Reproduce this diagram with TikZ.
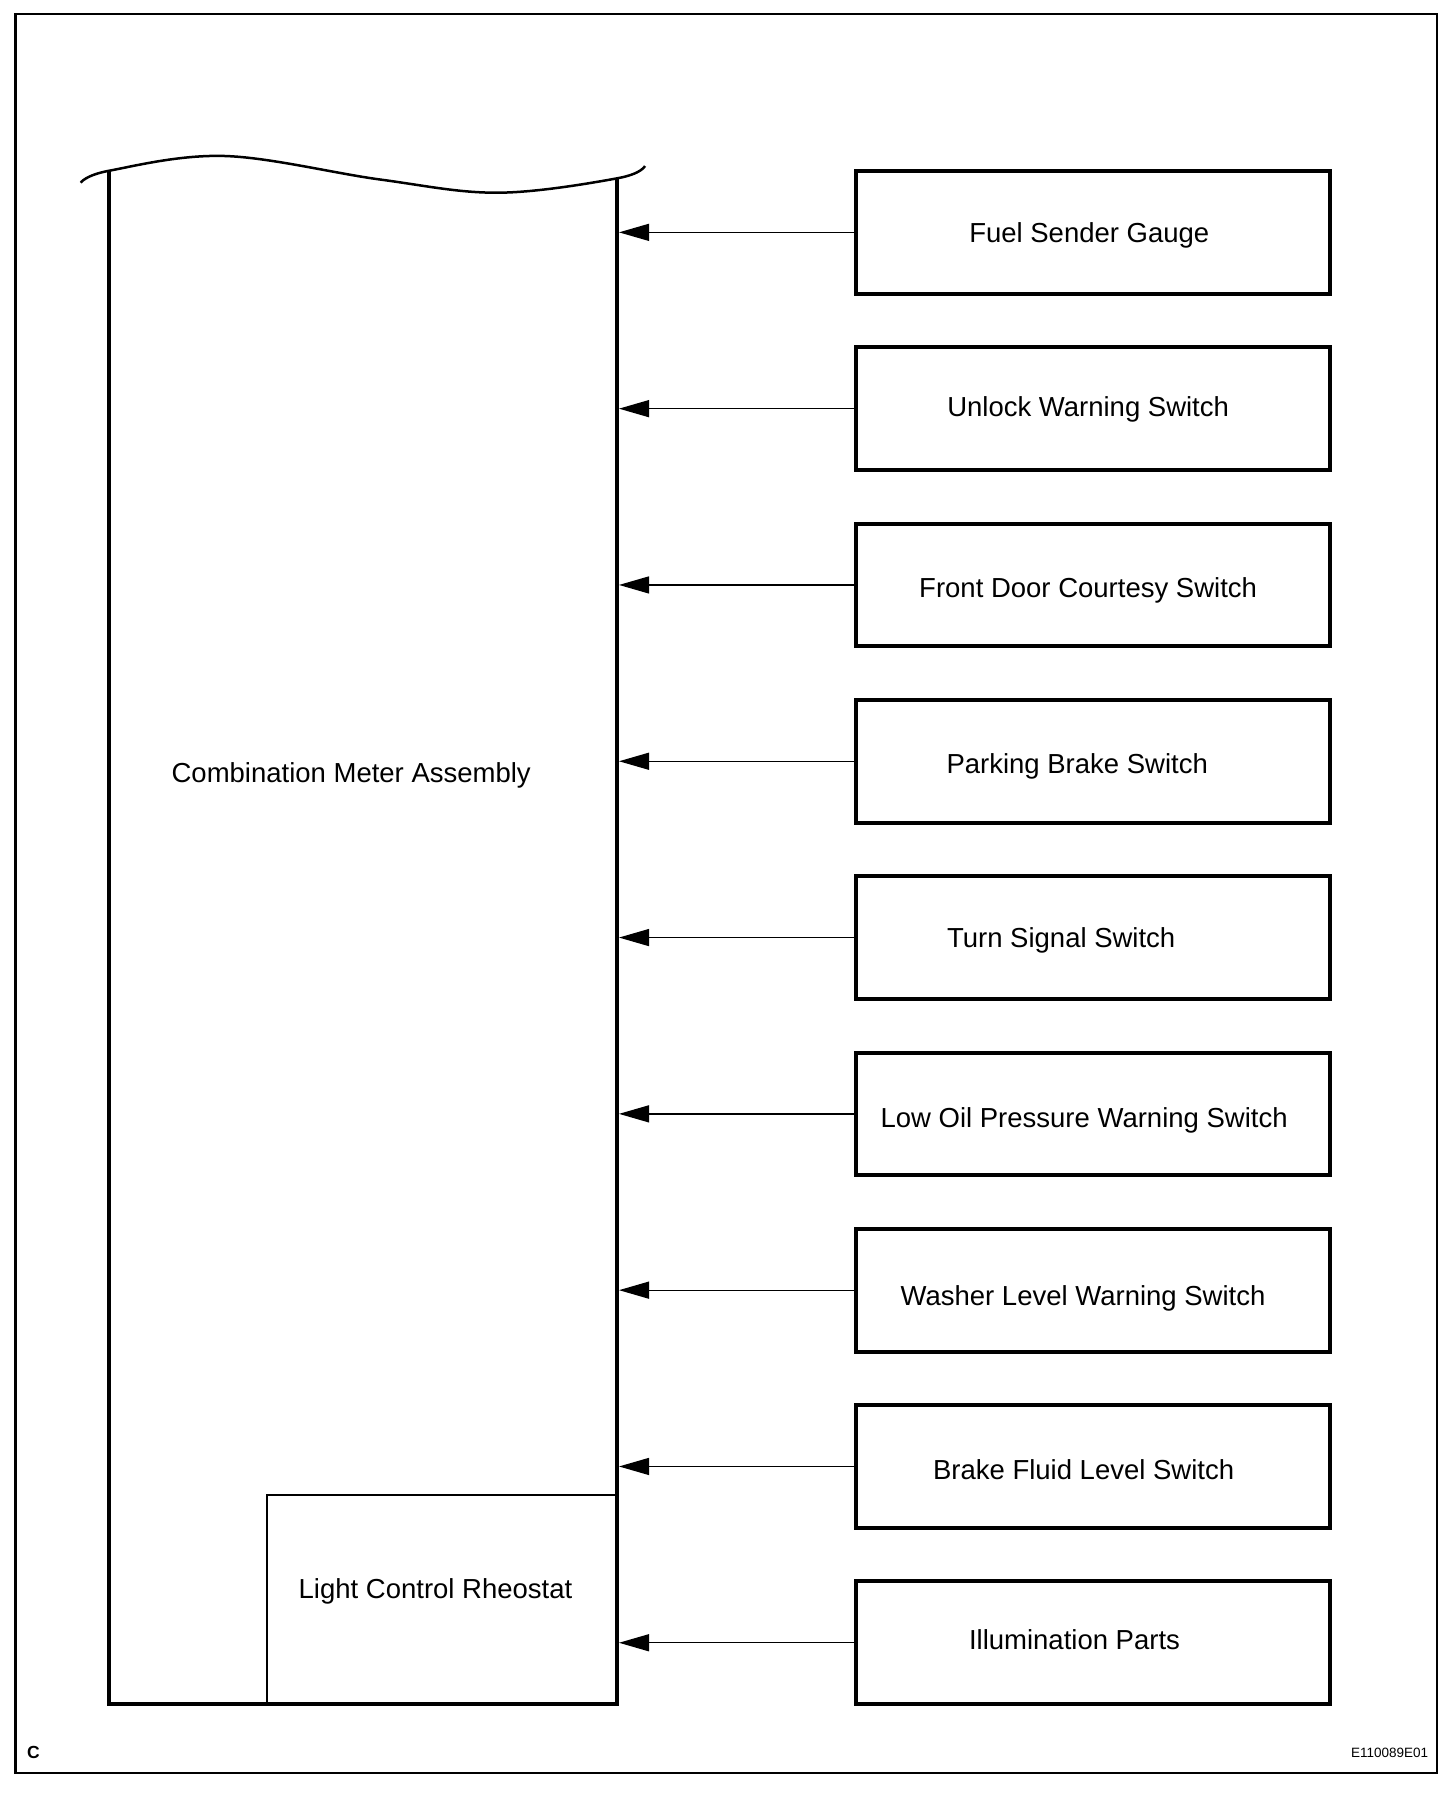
\documentclass[tikz,border=0pt]{standalone}
\usepackage{fontspec}
\setmainfont{Liberation Sans}
\usetikzlibrary{arrows.meta}
\begin{document}
\begin{tikzpicture}[x=1pt,y=-1pt,
  sbox/.style={draw, line width=4pt, minimum width=474pt, minimum height=122.7pt, inner sep=0pt},
  lbl/.style={font=\fontsize{27.5}{33}\selectfont, inner sep=0pt, text height=19.7pt, text depth=0pt},
  conn/.style={line width=1.3pt, -{Triangle[length=30pt,width=17pt]}},
  ]
\useasboundingbox (0,0) rectangle (1456,1800);
% outer frame
\draw[line width=2.7pt] (15.7,14) rectangle (1437,1773);
% combination meter block
\draw[line width=2.5pt] plot[smooth, tension=0.6] coordinates {(80.7,182.7) (109.3,170.7) (225,156) (380,179.5) (498,192.7) (617.3,178.3) (645,166)};
\draw[line width=4pt, line join=miter] (109.3,170.7) -- (109.3,1704) -- (617,1704) -- (617,178.3);
\node[lbl] (cma) at (351.2,773) {Combination Meter Assembly};
% rheostat
\draw[line width=1.3pt] (267,1704) -- (267,1495) -- (617,1495);
\node[lbl] (lcr) at (435.5,1589) {Light Control Rheostat};
% input boxes
\foreach \i/\t/\tx/\dy in {
  1/Fuel Sender Gauge/1089.3/0.5,
  2/Unlock Warning Switch/1088.1/-2.5,
  3/Front Door Courtesy Switch/1088.1/2.4,
  4/Parking Brake Switch/1077.2/1.9,
  5/Turn Signal Switch/1061.2/0,
  6/Low Oil Pressure Warning Switch/1084.1/3.8,
  7/Washer Level Warning Switch/1083.0/5.4,
  8/Brake Fluid Level Switch/1083.6/3.5,
  9/Illumination Parts/1074.5/-2.8}{
  \pgfmathsetmacro{\cy}{232.35+176.3*(\i-1)}
  \pgfmathsetmacro{\ty}{\cy+\dy}
  \node[sbox] (b\i) at (1093,\cy) {};
  \node[lbl] (t\i) at (\tx,\ty) {\t};
  \coordinate (w\i) at (619,\cy);
  \draw[conn] (b\i.west) -- (w\i);
}
% corner labels
\node[font=\bfseries\fontsize{17.5}{20}\selectfont, inner sep=0pt, anchor=base west] (c) at (27,1758.3) {C};
\node[font=\fontsize{13.5}{16}\selectfont, inner sep=0pt, anchor=base east] (code) at (1428.3,1757.7) {E110089E01};
\end{tikzpicture}
\end{document}
